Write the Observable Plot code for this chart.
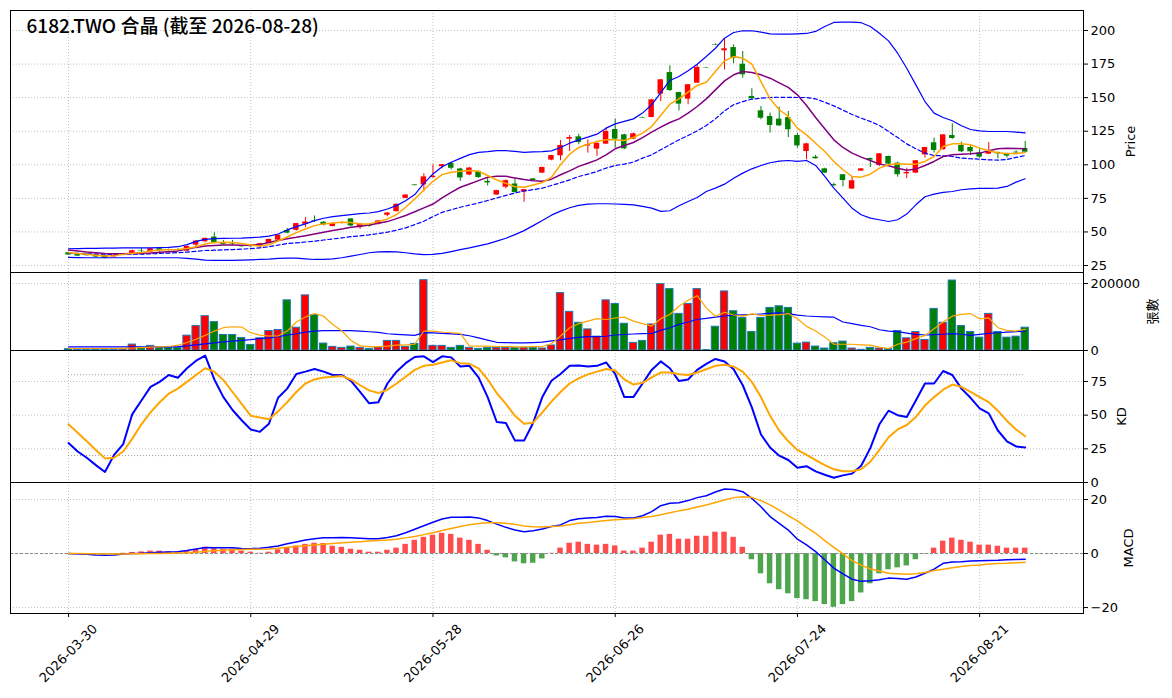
<!DOCTYPE html>
<html>
<head>
<meta charset="utf-8">
<script src="https://cdn.jsdelivr.net/npm/d3@7"></script>
<script src="https://cdn.jsdelivr.net/npm/@observablehq/plot@0.6"></script>
<style>
  html, body { margin: 0; padding: 0; background: #fff; overflow: hidden; }
  #chart { position: relative; width: 1172px; height: 698px; }
  #chart svg { position: absolute; left: 0; }
</style>
</head>
<body>
<div id="chart"></div>
<script>
const title = "6182.TWO 合晶 (截至 2026-08-28)";

const dates = [
"2026-03-30","2026-03-31","2026-04-01","2026-04-02","2026-04-07","2026-04-08","2026-04-09","2026-04-10","2026-04-13","2026-04-14","2026-04-15","2026-04-16","2026-04-17","2026-04-20","2026-04-21","2026-04-22","2026-04-23","2026-04-24","2026-04-27","2026-04-28","2026-04-29",
"2026-04-30","2026-05-04","2026-05-05","2026-05-06","2026-05-07","2026-05-08","2026-05-11","2026-05-12","2026-05-13","2026-05-14","2026-05-15","2026-05-18","2026-05-19","2026-05-20","2026-05-21","2026-05-22","2026-05-25","2026-05-26","2026-05-27","2026-05-28",
"2026-05-29","2026-06-01","2026-06-02","2026-06-03","2026-06-04","2026-06-05","2026-06-08","2026-06-09","2026-06-10","2026-06-11","2026-06-12","2026-06-15","2026-06-16","2026-06-17","2026-06-18","2026-06-22","2026-06-23","2026-06-24","2026-06-25","2026-06-26",
"2026-06-29","2026-06-30","2026-07-01","2026-07-02","2026-07-03","2026-07-06","2026-07-07","2026-07-08","2026-07-09","2026-07-10","2026-07-13","2026-07-14","2026-07-15","2026-07-16","2026-07-17","2026-07-20","2026-07-21","2026-07-22","2026-07-23","2026-07-24",
"2026-07-27","2026-07-28","2026-07-29","2026-07-30","2026-07-31","2026-08-03","2026-08-04","2026-08-05","2026-08-06","2026-08-07","2026-08-10","2026-08-11","2026-08-12","2026-08-13","2026-08-14","2026-08-17","2026-08-18","2026-08-19","2026-08-20","2026-08-21",
"2026-08-24","2026-08-25","2026-08-26","2026-08-27","2026-08-28"];

const open = [34.5,33.7,33.7,33.0,32.5,31.5,32.5,33.7,35.8,35.0,
37.5,36.5,36.8,35.7,40.2,42.7,46.2,41.7,41.0,39.7,
40.0,39.0,41.4,43.9,51.1,51.2,55.7,58.5,57.2,54.0,
56.5,59.7,53.2,55.0,55.7,62.4,65.1,75.0,85.0,85.0,
90.5,98.6,101.1,96.9,92.4,94.9,87.7,77.5,83.3,85.7,
79.8,89.5,93.8,103.5,106.7,119.1,120.8,114.0,111.7,115.4,
126.3,122.3,119.1,135.2,135.2,152.6,168.7,153.8,148.9,160.8,
172.3,189.5,184.9,187.3,174.9,150.9,140.2,136.0,134.0,135.2,
121.8,109.9,105.7,97.0,85.2,92.6,81.9,95.3,104.7,99.5,
106.2,101.2,93.3,93.8,107.4,116.4,111.2,121.8,114.4,112.9,
108.9,107.9,109.2,108.4,109.4,112.2];

const high = [35.0,34.0,34.0,33.3,32.7,33.0,34.0,36.5,37.7,37.7,
37.7,37.3,37.5,39.5,43.5,45.5,49.4,43.7,43.7,40.0,
40.3,41.5,44.7,47.8,52.6,56.4,60.7,61.9,57.7,56.5,
57.5,60.0,56.2,55.5,58.5,64.4,70.8,77.7,85.2,93.4,
100.0,100.3,101.9,97.4,97.9,95.5,89.7,81.0,88.7,89.5,
81.7,89.8,98.2,107.1,118.1,121.8,122.8,118.6,117.4,127.3,
134.0,122.8,123.6,135.4,148.6,163.5,173.7,154.0,159.8,174.4,
172.5,190.0,193.8,189.3,184.4,156.6,143.4,138.5,143.0,139.7,
123.6,116.0,107.0,97.5,86.3,92.8,91.3,97.2,105.0,108.4,
106.4,102.0,97.5,103.2,113.0,119.9,122.5,130.5,116.9,114.1,
112.4,116.6,109.4,108.6,110.4,117.4];

const low = [32.5,31.8,32.0,31.0,30.0,31.0,32.2,33.5,33.7,34.8,
35.0,35.8,35.5,35.5,38.2,42.0,41.2,40.2,40.0,38.5,
38.5,38.7,41.2,43.7,48.6,50.6,53.2,57.0,54.5,53.8,
56.0,54.0,52.0,53.5,55.2,61.2,65.0,74.8,84.3,79.8,
90.0,97.0,96.2,87.7,91.9,90.0,84.2,77.3,82.0,79.0,
72.1,88.0,93.6,103.0,103.0,109.9,114.9,108.7,106.2,115.0,
112.4,111.2,118.6,134.6,135.0,147.1,154.6,140.2,144.7,160.6,
171.9,188.8,170.7,175.2,164.5,148.9,133.5,123.6,128.5,120.3,
112.4,103.7,104.2,93.5,83.9,83.6,81.9,95.0,98.0,98.8,
100.0,90.8,89.6,93.6,105.0,108.7,111.0,119.0,109.2,107.0,
105.0,107.7,104.5,105.0,107.4,109.2];

const close = [32.8,32.0,32.3,31.3,30.3,32.5,33.8,36.0,35.5,37.5,
36.2,36.2,36.3,39.2,43.2,45.2,41.9,40.7,40.5,39.0,
39.0,41.2,44.4,47.6,49.1,56.2,57.4,58.0,55.2,56.2,
57.0,54.5,55.7,54.2,58.2,64.1,70.6,77.5,84.5,91.0,
91.5,100.1,97.4,90.2,97.6,90.5,86.5,80.8,88.2,79.3,
81.5,88.2,98.0,106.9,114.4,120.3,116.6,115.0,115.9,124.8,
119.1,111.9,123.1,134.8,148.4,163.3,155.3,145.2,159.6,172.5,
172.0,189.1,186.4,179.4,167.0,149.1,134.7,129.3,129.0,126.1,
114.1,115.6,104.5,93.8,84.4,88.3,88.1,97.0,103.5,108.2,
100.5,92.6,94.3,103.0,112.9,110.7,122.3,119.6,109.7,109.7,
105.7,109.9,108.2,106.5,108.9,109.4];

const ma5 = [34.5,33.9,33.3,32.6,32.0,32.3,33.3,34.2,34.7,35.8,
36.5,36.7,37.0,37.6,39.0,41.0,42.2,42.4,42.2,41.4,
40.2,39.5,40.5,43.3,46.2,49.5,52.2,54.7,56.0,56.7,
57.2,57.0,56.0,56.0,57.7,59.7,62.9,68.4,74.6,81.3,
87.7,92.7,94.4,95.2,95.7,95.2,92.0,88.7,86.2,83.7,
83.3,85.0,86.8,90.6,100.0,107.9,112.9,115.4,117.4,118.6,
118.6,118.1,120.3,123.6,128.5,136.7,145.2,149.1,154.1,159.1,
161.5,169.5,177.4,180.6,179.4,174.9,162.0,149.1,141.0,136.0,
127.3,122.3,116.1,109.9,102.5,96.3,91.3,90.8,93.0,97.5,
100.0,100.7,100.5,100.5,102.5,106.2,113.6,115.6,115.6,114.9,
112.4,110.4,108.9,108.4,108.4,109.2];

const ma10 = [36.5,35.8,35.0,34.5,33.9,33.7,33.7,33.9,34.1,34.3,
34.8,35.3,35.9,37.2,38.5,39.5,39.9,40.2,40.2,40.1,
40.1,40.7,42.2,43.6,45.0,46.0,47.2,48.5,49.7,51.0,
52.2,53.5,54.3,55.2,56.4,57.7,59.9,62.2,65.0,67.9,
70.8,75.3,79.5,83.3,85.7,88.2,90.7,91.4,91.4,90.2,
89.0,88.2,87.8,89.3,92.6,95.5,98.8,101.2,103.7,107.4,
111.9,114.4,116.6,120.3,124.3,128.0,131.5,134.2,138.5,143.4,
149.1,155.8,162.5,167.0,169.5,168.7,167.0,164.5,161.0,157.6,
152.1,144.2,135.2,126.8,118.6,112.9,108.7,105.7,103.2,100.5,
99.3,97.5,96.0,96.8,99.5,102.5,106.2,107.4,107.9,108.2,
108.7,110.4,111.9,112.4,112.2,111.9];

const bbUpper = [37.5,37.6,37.7,37.8,37.9,38.0,38.2,38.2,38.2,38.2,
38.3,38.5,39.0,40.6,43.0,44.5,45.0,45.2,45.3,45.4,
45.8,46.2,46.9,48.5,51.5,54.0,56.0,58.4,60.2,61.4,
62.2,62.9,63.6,64.1,65.1,67.1,69.6,73.3,77.8,86.2,
93.2,98.6,101.9,104.8,107.6,109.3,109.8,110.5,110.5,110.0,
109.3,109.6,109.8,110.4,112.9,116.1,118.6,120.6,122.8,127.3,
130.5,132.3,134.2,138.5,144.7,153.8,162.8,165.8,170.0,174.9,
180.6,186.8,194.3,198.5,199.8,199.8,198.8,197.5,197.3,197.3,
197.5,197.8,199.3,203.0,206.0,206.2,206.2,205.8,203.0,198.0,
192.3,183.1,171.9,159.5,147.1,138.5,135.2,132.8,129.1,126.3,
125.3,124.8,124.8,124.8,124.3,123.8];

const bbMid = [34.2,34.0,33.7,33.6,33.4,33.3,33.3,33.4,33.5,33.7,
34.0,34.3,34.6,35.0,35.5,36.2,36.4,36.7,36.9,37.2,
37.6,38.2,38.9,40.2,41.4,41.9,42.5,43.1,44.0,44.8,
45.6,46.5,47.1,47.8,48.8,49.8,51.3,53.0,55.5,58.0,
61.4,64.6,66.5,68.4,70.0,71.6,73.4,75.3,77.2,79.0,
80.5,81.5,82.6,84.6,86.6,88.8,91.3,93.0,95.0,97.5,
99.5,100.5,102.0,105.0,107.4,111.2,114.9,118.6,121.8,125.3,
129.3,134.2,140.2,144.7,147.1,148.9,149.6,150.1,150.3,150.2,
150.1,150.1,149.1,146.6,143.9,140.7,137.5,134.7,132.3,129.3,
124.8,120.3,115.6,111.9,108.7,106.9,106.7,106.2,105.0,104.5,
104.2,103.7,103.5,104.0,105.5,106.9];

const bbLower = [31.0,30.9,30.8,30.8,30.8,30.8,30.8,30.8,30.8,30.8,
30.8,30.8,30.8,30.3,29.8,29.0,28.8,28.8,28.9,29.0,
29.2,29.5,29.8,30.3,30.5,30.5,30.0,29.5,29.6,29.9,
30.8,32.0,33.2,34.5,35.2,35.4,35.2,34.5,33.6,33.1,
33.3,34.0,35.4,36.8,38.1,39.6,41.1,43.2,45.3,48.0,
51.0,54.7,58.5,62.5,65.5,68.0,69.8,70.7,71.0,71.0,
70.8,70.5,70.2,69.0,67.7,65.3,65.8,69.5,72.7,75.7,
80.1,82.6,85.6,90.0,93.8,97.0,99.5,101.5,102.8,103.2,
102.5,103.2,99.5,91.3,82.6,75.2,67.7,62.8,60.3,59.1,
57.8,59.1,63.3,70.2,76.2,78.2,79.4,80.1,81.4,82.1,
82.4,82.4,82.6,83.9,87.1,89.6];

const volume = [4000,3000,3000,4000,3000,3000,4000,17700,6900,13800,
7900,7900,7900,44300,72900,102400,84700,46300,46300,37400,
16700,36400,58100,61100,149700,68000,164500,105400,20700,10800,
7900,11800,7900,4900,8900,28600,28600,10800,19700,209800,
13800,13800,7900,13800,7900,4900,7900,7900,7900,7900,
7900,7900,6000,15000,171400,115300,82700,63000,41400,149700,
138900,79800,22700,28600,77800,198000,183200,109300,138900,183200,
1000,70900,176300,117200,97500,55200,97500,127100,132000,127100,
20700,23600,11800,5900,21700,26600,5900,2000,7900,5900,
4000,58100,36400,55200,31500,124100,82700,208800,72900,55200,
38400,109300,55200,38400,41400,68000];

const volMa5 = [5900,5900,5900,5900,5900,5900,6500,7500,8500,9800,
11000,12000,15800,24000,33500,45000,58000,68000,70900,70000,
53200,46000,43300,43300,58000,85000,100000,110300,102400,77800,
58100,30000,13800,11800,11800,13000,15800,17000,18700,58100,
58100,55200,53000,51200,13800,13000,13000,12000,12000,11000,
11000,11800,11800,20000,43300,68000,80000,87700,95000,92600,
97000,99500,87700,80000,72900,95000,107400,132000,150000,163500,
127100,102400,114300,106000,102400,109300,104400,105400,107000,110300,
95000,72000,58100,40000,18700,18700,18700,17000,15800,10000,
5900,18700,25000,35500,45000,65000,85000,102400,108000,110300,
94600,97500,68000,60000,58100,63000];

const volMa20 = [10800,10800,10800,10800,10800,10800,10800,10800,10800,10800,
10800,11000,11800,13800,16700,20000,22700,25600,28000,30500,
32500,35500,37400,41000,46300,50000,55000,58000,59100,59100,
59100,59100,58000,56000,54000,50000,48300,46500,45300,53200,
52500,51200,49800,48300,44000,37500,31000,24500,23600,22700,
22700,23600,25000,28600,31500,36400,39000,41400,41400,42500,
46300,47700,49200,50200,51200,60000,68000,77800,85000,92600,
96000,99500,103000,105400,106400,107400,109000,110600,112300,110000,
105400,103000,101500,100500,99500,85000,80000,75000,70900,62000,
58100,56100,52000,48300,46300,47300,48500,50200,48500,45300,
48000,51200,53000,55000,56500,58100];

const kValues = [29.3,23.0,18.4,12.9,7.8,20.5,28.5,50.8,60.9,71.0,
74.7,79.8,77.8,84.8,90.4,94.2,76.5,63.4,53.8,46.2,
39.4,37.6,43.7,62.9,69.7,80.6,82.3,84.3,82.3,79.8,
79.8,75.5,67.2,58.8,59.6,73.5,82.3,88.6,93.2,93.7,
89.4,93.7,92.9,86.1,86.6,78.0,63.4,44.9,44.2,31.1,
31.1,44.4,63.4,75.5,80.6,86.6,86.9,86.1,86.6,89.1,
80.6,63.4,63.4,73.5,83.6,89.9,84.8,75.3,76.5,83.6,
88.1,91.7,89.9,84.1,72.2,55.8,35.6,26.0,19.9,16.7,
10.9,12.1,8.3,5.8,3.5,5.3,6.6,12.4,25.5,43.2,
53.3,50.0,48.7,60.9,73.5,73.5,82.8,79.8,69.7,62.9,
55.0,51.3,38.6,30.6,26.8,26.0];

const dValues = [43.2,36.9,30.6,24.2,17.9,18.4,23.0,32.6,43.2,52.0,
59.6,65.9,69.7,74.7,79.8,84.8,82.3,76.0,67.2,58.3,
49.5,48.2,47.0,52.8,59.6,67.2,73.5,76.5,78.0,78.5,
79.0,76.5,72.2,68.4,66.4,68.9,73.5,78.5,83.6,86.6,
87.4,89.1,90.7,88.6,88.1,84.8,76.5,66.4,58.3,49.5,
43.7,44.4,52.0,60.0,67.2,73.5,77.3,80.3,82.3,84.3,
83.1,76.5,72.7,74.0,78.0,81.6,81.6,80.3,79.8,81.6,
84.1,86.6,87.4,86.1,82.3,74.7,63.4,49.5,38.6,30.6,
24.2,20.5,16.7,12.9,9.8,8.3,8.3,9.8,15.4,24.2,
33.6,39.4,42.7,48.7,57.1,63.4,68.9,72.7,71.0,67.2,
63.4,59.6,53.3,45.7,39.4,34.3];

const kdLevels = [20, 80];

const dif = [0,-0.2,-0.3,-0.5,-0.6,-0.5,-0.2,0,0.1,0.3,
0.5,0.6,0.7,1.1,1.7,2.2,2.1,2.1,2.1,1.9,
1.8,2.0,2.3,2.8,3.6,4.3,5.0,5.5,5.8,5.8,
5.9,5.8,5.7,5.5,5.5,5.9,6.6,7.7,9.0,10.3,
11.6,12.8,13.4,13.4,13.5,13.2,12.2,10.9,9.7,8.7,
8.1,8.4,9.1,10.0,10.6,12.2,12.9,13.2,13.3,13.8,
13.7,13.2,13.2,14.0,15.5,17.7,18.6,18.8,19.6,20.7,
21.4,22.8,23.9,23.7,22.9,20.4,17.3,13.7,11.2,8.7,
5.3,3.2,0.7,-2.3,-5.4,-7.5,-9.5,-10.3,-10.1,-9.7,
-9.1,-9.2,-9.5,-8.7,-7.3,-5.8,-3.6,-3.1,-3.0,-2.8,
-2.7,-2.6,-2.5,-2.3,-2.2,-2.1];

const dea = [0,0,-0.1,-0.1,-0.2,-0.2,-0.2,-0.1,-0.1,0,
0,0.1,0.2,0.3,0.5,0.8,1.0,1.2,1.4,1.5,
1.6,1.6,1.7,2.0,2.3,2.6,2.9,3.2,3.4,3.7,
4.0,4.2,4.4,4.6,4.8,5.0,5.3,5.8,6.3,7.0,
7.7,8.5,9.3,10.0,10.7,11.1,11.4,11.4,11.2,10.8,
10.2,9.9,9.8,10.0,10.2,10.7,11.2,11.5,11.9,12.2,
12.5,12.7,12.9,13.3,13.7,14.4,15.1,15.8,16.4,17.2,
18.0,18.9,19.8,20.7,21.0,20.8,19.6,18.0,16.1,14.0,
12.1,9.7,7.5,4.8,2.3,-0.1,-2.6,-4.3,-5.7,-6.5,
-7.3,-7.5,-7.7,-7.5,-7.0,-6.3,-5.8,-5.3,-4.8,-4.4,
-4.2,-3.9,-3.7,-3.6,-3.4,-3.2];

const hist = [0,-0.1,-0.2,-0.3,-0.3,-0.2,0.1,0.4,0.6,0.9,
0.9,0.7,0.7,1.1,1.5,2.3,1.8,1.6,1.6,0.9,
0.5,0.1,0.5,1.4,2.2,2.8,3.4,3.8,3.7,2.7,
2.3,1.6,1.2,0.5,0.5,1.2,2.0,3.4,4.9,6.0,
6.8,7.5,7.1,5.7,4.9,3.4,1.2,-0.9,-1.6,-3.1,
-3.8,-3.6,-2.0,0.1,2.0,3.8,4.2,3.4,3.1,3.4,
2.8,0.9,0.9,2.0,4.2,6.8,7.1,5.3,5.3,6.4,
6.4,7.9,7.9,6.0,2.3,-2.3,-7.5,-11.2,-13.4,-14.9,
-16.7,-17.1,-17.8,-18.9,-19.9,-18.9,-17.8,-14.6,-11.2,-7.5,
-6.0,-5.3,-4.6,-2.3,-0.2,2.0,4.6,5.7,4.9,4.2,
3.1,3.1,2.7,2.0,2.0,2.0];

const xTicks = [0, 20, 40, 60, 80, 100];
const priceTicks = [25, 50, 75, 100, 125, 150, 175, 200];
const volTicks = [0, 200000];
const kdTicks = [0, 25, 50, 75];
const macdTicks = [-20, 0, 20];

// ---------- build ----------
const UP = "#ff0000", DOWN = "#008000";
const HUP = "#ff4d4d", HDOWN = "#4da64d";
const GRID = {stroke: "#b0b0b0", strokeOpacity: 1, strokeWidth: 0.8, strokeDasharray: "1,2"};
const FONT = "'DejaVu Sans', 'Noto Sans CJK TC', sans-serif";
const xDomain = [-6.37, 111.4];

const bars = dates.map((d, i) => ({i, date: d, o: open[i], h: high[i], l: low[i], c: close[i], v: volume[i]}));
const col = d => d.c >= d.o ? UP : DOWN;
const fmt = v => v < 0 ? "\u2212" + (-v) : String(v);

function series(arr, opts) {
  return Plot.line(arr, {x: (d, i) => i, y: d => d, ...opts});
}
function ylabel(text, dx) {
  return Plot.text([text], {frameAnchor: "right", dx, rotate: -90, textAnchor: "middle", fontSize: 13, fontFamily: FONT});
}
function panel({top, height, marginTop = 0, marginBottom = 0, yDomain, marks}) {
  const svg = Plot.plot({
    width: 1172, height, marginLeft: 10, marginRight: 89, marginTop, marginBottom,
    style: {fontFamily: FONT, fontSize: "13px", background: "transparent", overflow: "visible"},
    x: {type: "linear", domain: xDomain, axis: null},
    y: {type: "linear", domain: yDomain},
    marks
  });
  svg.style.top = top + "px";
  document.getElementById("chart").appendChild(svg);
}

// Price panel
panel({
  top: 0, height: 272, marginTop: 10, yDomain: [19.8, 214.9],
  marks: [
    Plot.gridX(xTicks, GRID),
    Plot.gridY(priceTicks, GRID),
    Plot.ruleX(bars, {x: "i", y1: "l", y2: "h", stroke: col, strokeWidth: 1}),
    Plot.rect(bars, {x1: d => d.i - 0.3, x2: d => d.i + 0.3, y1: d => Math.min(d.o, d.c), y2: d => Math.max(d.o, d.c), fill: col}),
    series(bbUpper, {stroke: "#0000ff", strokeWidth: 1.2}),
    series(bbLower, {stroke: "#0000ff", strokeWidth: 1.2}),
    series(bbMid, {stroke: "#0000ff", strokeWidth: 1.2, strokeDasharray: "4,2.5"}),
    series(ma10, {stroke: "#800080", strokeWidth: 1.5}),
    series(ma5, {stroke: "#ffa500", strokeWidth: 1.5}),
    Plot.axisY(priceTicks, {anchor: "right", tickSize: 4, tickPadding: 3, label: null, tickFormat: fmt}),
    ylabel("Price", 47),
    Plot.text([title], {frameAnchor: "top-left", dx: 16, dy: 9, textAnchor: "start", lineAnchor: "top", fontSize: 19, fontWeight: 500, fontFamily: "'Noto Sans CJK TC', sans-serif"}),
    Plot.frame({stroke: "black"})
  ]
});

// Volume panel
panel({
  top: 272, height: 78, yDomain: [0, 232800],
  marks: [
    Plot.gridX(xTicks, GRID),
    Plot.gridY(volTicks, GRID),
    Plot.rect(bars, {x1: d => d.i - 0.4, x2: d => d.i + 0.4, y1: 0, y2: "v", fill: col, stroke: "#1f77b4", strokeWidth: 1}),
    series(volMa20, {stroke: "#0000ff", strokeWidth: 1.2}),
    series(volMa5, {stroke: "#ffa500", strokeWidth: 1.2}),
    Plot.axisY(volTicks, {anchor: "right", tickSize: 4, tickPadding: 3, label: null, tickFormat: fmt}),
    ylabel("張數", 69),
    Plot.frame({stroke: "black"})
  ]
});

// KD panel
panel({
  top: 350, height: 132, yDomain: [0, 98],
  marks: [
    Plot.gridX(xTicks, GRID),
    Plot.gridY(kdTicks, GRID),
    Plot.ruleY(kdLevels, {x1: 0, x2: dates.length - 1, stroke: "#999", strokeWidth: 1, strokeDasharray: "1,2"}),
    series(kValues, {stroke: "#0000ff", strokeWidth: 2}),
    series(dValues, {stroke: "#ffa500", strokeWidth: 2}),
    Plot.axisY(kdTicks, {anchor: "right", tickSize: 4, tickPadding: 3, label: null, tickFormat: fmt}),
    ylabel("KD", 38),
    Plot.frame({stroke: "black"})
  ]
});

// MACD panel
panel({
  top: 482, height: 216, marginBottom: 85, yDomain: [-22.2, 26.3],
  marks: [
    Plot.gridX(xTicks, GRID),
    Plot.gridY(macdTicks, GRID),
    Plot.rect(hist, {x1: (d, i) => i - 0.3, x2: (d, i) => i + 0.3, y1: 0, y2: d => d, fill: d => d >= 0 ? HUP : HDOWN}),
    Plot.ruleY([0], {stroke: "#888", strokeWidth: 1, strokeDasharray: "3,2"}),
    series(dif, {stroke: "#0000ff", strokeWidth: 1.5}),
    series(dea, {stroke: "#ffa500", strokeWidth: 1.5}),
    Plot.axisY(macdTicks, {anchor: "right", tickSize: 4, tickPadding: 3, label: null, tickFormat: fmt}),
    Plot.axisX(xTicks, {anchor: "bottom", tickSize: 4, label: null, tickFormat: () => ""}),
    Plot.text(xTicks, {x: d => d, text: d => dates[d], frameAnchor: "bottom", dy: 40, rotate: -45, textAnchor: "middle", lineAnchor: "middle", fontSize: 13, fontFamily: FONT}),
    ylabel("MACD", 45),
    Plot.frame({stroke: "black"})
  ]
});
</script>
</body>
</html>
